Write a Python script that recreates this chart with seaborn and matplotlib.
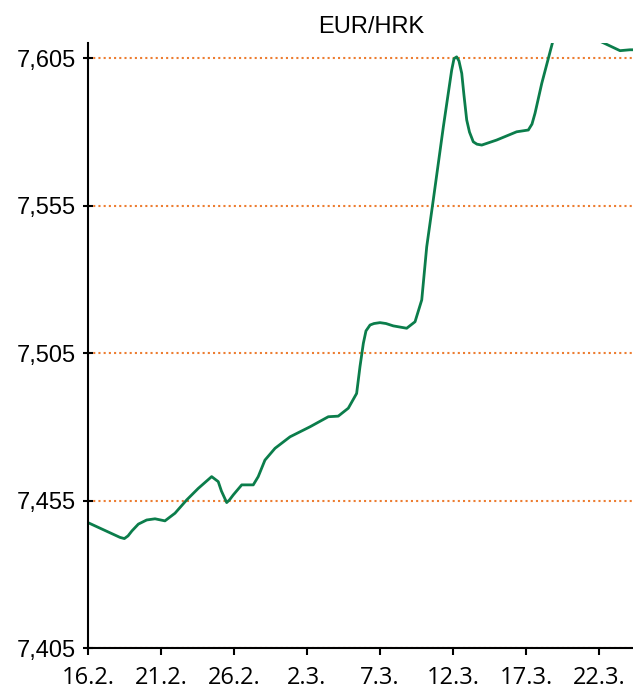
import numpy as np
import pandas as pd
import matplotlib
matplotlib.use("Agg")
import matplotlib.pyplot as plt
import matplotlib.ticker as mtick
import seaborn as sns

# days since 16.2.2020 and EUR/HRK rate
day = [0.0, 2.19, 2.49, 2.74, 3.01, 3.45, 4.02, 4.59, 5.27, 5.96, 6.76, 7.55,
       8.47, 8.92, 9.14, 9.50, 9.69, 9.95, 10.53, 11.32, 11.66, 12.12, 12.81,
       13.84, 15.21, 16.46, 17.14, 17.83, 18.40, 18.63, 18.86, 19.04, 19.32,
       19.59, 20.0, 20.41, 20.91, 21.83, 22.40, 22.86, 23.20, 23.65, 24.34,
       24.91, 25.07, 25.25, 25.41, 25.60, 25.75, 25.94, 26.13, 26.39, 26.64,
       26.97, 27.99, 29.36, 30.16, 30.41, 30.62, 31.08, 31.83, 32.8, 34.0,
       35.07, 36.44, 37.12, 37.4]
rate = [7.4475, 7.4425, 7.4421, 7.4430, 7.4447, 7.4470, 7.4484, 7.4488, 7.4481,
        7.4507, 7.4552, 7.4591, 7.4631, 7.4614, 7.4582, 7.4543, 7.4552, 7.4569,
        7.4603, 7.4603, 7.4631, 7.4687, 7.4727, 7.4766, 7.4800, 7.4834, 7.4836,
        7.4863, 7.4913, 7.5004, 7.5083, 7.5125, 7.5145, 7.5150, 7.5153, 7.5150,
        7.5142, 7.5134, 7.5156, 7.5230, 7.5410, 7.5569, 7.5817, 7.6009, 7.6048,
        7.6054, 7.6040, 7.5998, 7.5925, 7.5840, 7.5799, 7.5766, 7.5758, 7.5755,
        7.5772, 7.5800, 7.5806, 7.5826, 7.5863, 7.5964, 7.6105, 7.6240, 7.6260,
        7.6107, 7.6075, 7.6078, 7.6078]

tick_days = [0, 5, 10, 15, 20, 25, 30, 35]
tick_labels = ["16.2.", "21.2.", "26.2.", "2.3.", "7.3.", "12.3.", "17.3.", "22.3."]
y_ticks = [7.405, 7.455, 7.505, 7.555, 7.605]

df = pd.DataFrame({"day": day, "rate": rate})

sns.set_theme(style="white")
sans = ["Liberation Sans", "DejaVu Sans"]

fig = plt.figure(figsize=(6.33, 6.94), dpi=100)
ax = fig.add_axes([88/633, 46/694, 545/633, 605/694])

sns.lineplot(data=df, x="day", y="rate", ax=ax, color="#0B7D4B", linewidth=2.0, sort=True)

ax.set_xlim(0, 37.33)
ax.set_ylim(7.405, 7.6101)
ax.set_yticks(y_ticks)
ax.yaxis.set_major_formatter(mtick.FuncFormatter(lambda v, _: f"{v:.3f}".replace(".", ",")))
ax.set_xticks(tick_days)
ax.set_xticklabels(tick_labels)
ax.set_xlabel(""); ax.set_ylabel("")

ax.grid(axis="y", color="#ED7D31", linestyle=(0, (1, 1.5)), linewidth=1.5)
ax.grid(axis="x", visible=False)
ax.set_axisbelow(True)

for s in ["top", "right"]:
    ax.spines[s].set_visible(False)
for s in ["left", "bottom"]:
    ax.spines[s].set_color("black")
    ax.spines[s].set_linewidth(1.5)
    ax.spines[s].set_zorder(3)

ax.tick_params(axis="y", direction="inout", length=7.5, width=1.5, color="black",
               left=True, pad=5, labelsize=17, labelcolor="black")
ax.tick_params(axis="x", direction="out", length=5, width=1.5, color="black",
               bottom=True, pad=8, labelsize=17, labelcolor="black")
for lab in ax.get_yticklabels():
    lab.set_family(sans)
for lab in ax.get_xticklabels():
    lab.set_family(["Open Sans", "DejaVu Sans"])

fig.text(371/633, 1 - 27/694, "EUR/HRK", ha="center", va="center",
         fontsize=17, family=sans, color="black")

fig.savefig("out.png", dpi=100)
plt.close(fig)
